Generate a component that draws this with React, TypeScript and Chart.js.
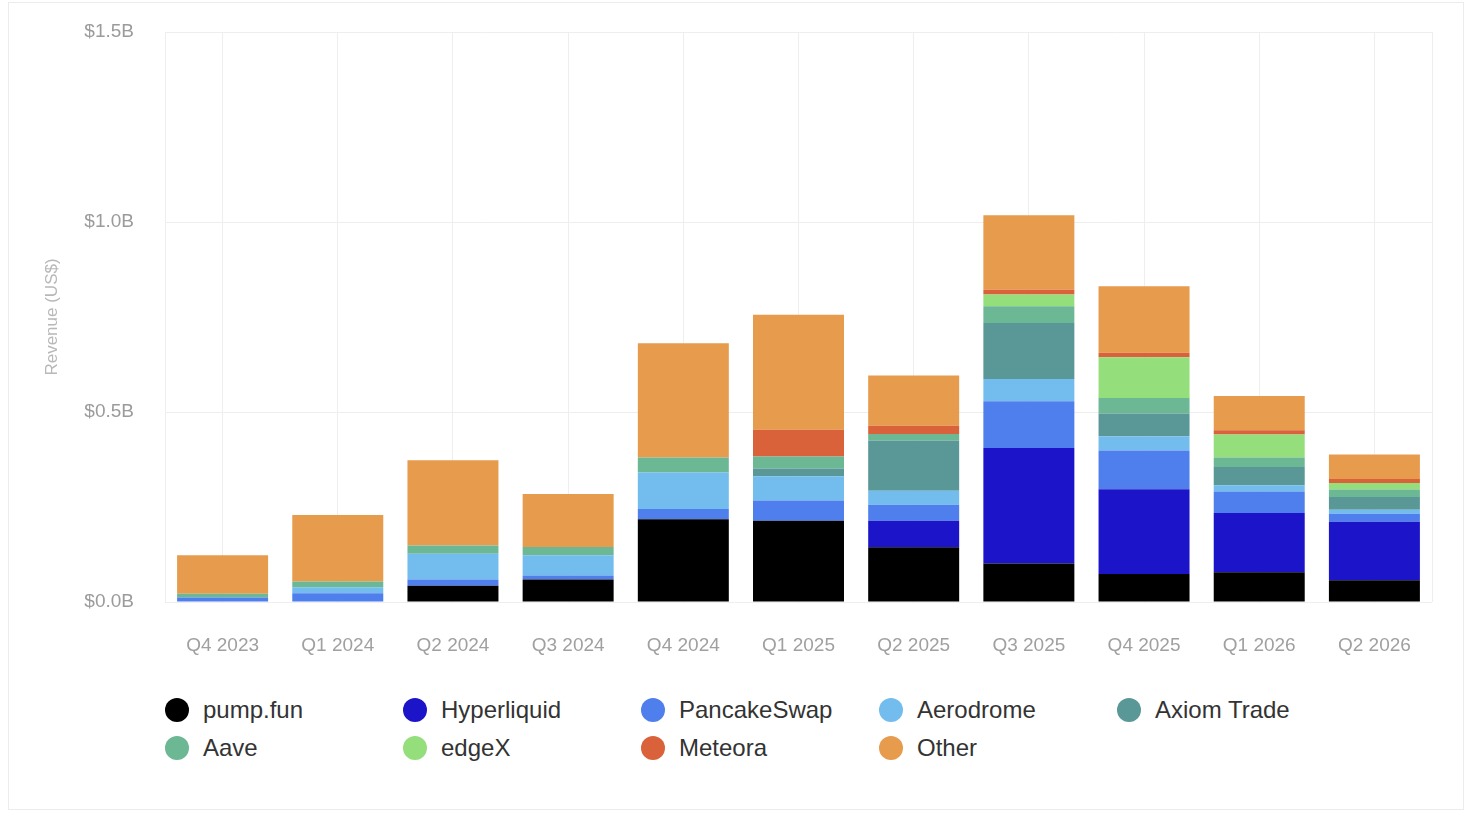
import { useEffect, useRef } from "react";
import { Chart, registerables, type Plugin } from "chart.js";

Chart.register(...registerables);

// ── Data (US$ millions) ──────────────────────────────────────────────────────
const QUARTERS = [
  "Q4 2023", "Q1 2024", "Q2 2024", "Q3 2024", "Q4 2024", "Q1 2025",
  "Q2 2025", "Q3 2025", "Q4 2025", "Q1 2026", "Q2 2026",
];

const PUMP_FUN     = [0, 0, 43, 59, 218, 214, 144, 101, 74, 78, 57];
const HYPERLIQUID  = [0, 0, 0, 0, 0, 0, 70, 304, 223, 156, 154];
const PANCAKESWAP  = [12, 23, 16, 11, 27, 53, 42, 123, 102, 57, 21];
const AERODROME    = [0, 16, 68, 53, 96, 64, 37, 59, 37, 16, 11];
const AXIOM_TRADE  = [0, 0, 0, 0, 0, 20, 132, 147, 60, 48, 33];
const AAVE         = [10, 15, 22, 22, 39, 32, 17, 44, 41, 25, 20];
const EDGEX        = [0, 0, 0, 0, 0, 0, 0, 31, 107, 61, 17];
const METEORA      = [0, 0, 0, 0, 0, 70, 22, 13, 12, 11, 11];
const OTHER        = [101, 175, 224, 139, 301, 303, 132, 196, 175, 90, 64];

const Y_TICKS = [0, 500, 1000, 1500];

// ── Series (bottom of stack first) ───────────────────────────────────────────
const SERIES: Array<{ label: string; color: string; data: number[] }> = [
  { label: "pump.fun",    color: "#000000", data: PUMP_FUN },
  { label: "Hyperliquid", color: "#1c14c8", data: HYPERLIQUID },
  { label: "PancakeSwap", color: "#4e7fec", data: PANCAKESWAP },
  { label: "Aerodrome",   color: "#72bcee", data: AERODROME },
  { label: "Axiom Trade", color: "#5a9797", data: AXIOM_TRADE },
  { label: "Aave",        color: "#6cb794", data: AAVE },
  { label: "edgeX",       color: "#94de7c", data: EDGEX },
  { label: "Meteora",     color: "#d9623a", data: METEORA },
  { label: "Other",       color: "#e79b4d", data: OTHER },
];

// legend reads row by row, five per row
const LEGEND_ORDER = [
  "pump.fun", "Hyperliquid", "PancakeSwap", "Aerodrome", "Axiom Trade",
  "Aave", "edgeX", "Meteora", "Other",
];

const FONT = "'Liberation Sans', Arial, Helvetica, sans-serif";
const GRID = "#eeeeee";

// ── Right edge of the plot frame ─────────────────────────────────────────────
const frameRight: Plugin = {
  id: "frameRight",
  beforeDatasetsDraw(chart) {
    const { ctx, chartArea } = chart;
    ctx.save();
    ctx.strokeStyle = GRID;
    ctx.lineWidth = 1;
    ctx.beginPath();
    ctx.moveTo(chartArea.right + 0.5, chartArea.top);
    ctx.lineTo(chartArea.right + 0.5, chartArea.bottom);
    ctx.stroke();
    ctx.restore();
  },
};

function RevenueChart() {
  const canvasRef = useRef<HTMLCanvasElement>(null);

  useEffect(() => {
    const canvas = canvasRef.current;
    if (!canvas) return;

    const chart = new Chart(canvas, {
      type: "bar",
      plugins: [frameRight],
      data: {
        labels: QUARTERS,
        datasets: SERIES.map((s) => ({
          label: s.label,
          data: s.data,
          backgroundColor: s.color,
          borderWidth: 0,
          stack: "rev",
          barPercentage: 0.79,
          categoryPercentage: 1,
        })),
      },
      options: {
        responsive: false,
        animation: false,
        layout: { padding: { top: 32, right: 36, bottom: 20, left: 0 } },
        plugins: {
          legend: { display: false },
          tooltip: { enabled: false },
        },
        scales: {
          x: {
            stacked: true,
            afterFit(scale: any) { scale.height = 58; },
            grid: { color: GRID, offset: false, drawTicks: false },
            border: { display: false },
            ticks: {
              color: "#a0a0a0",
              padding: 32,
              font: { family: FONT, size: 19 },
              maxRotation: 0,
            },
          },
          y: {
            stacked: true,
            min: 0,
            max: 1500,
            afterFit(scale: any) {
              scale.width = 165;
              scale.paddingTop = 0;
              scale.paddingBottom = 0;
            },
            afterBuildTicks(scale: any) { scale.ticks = Y_TICKS.map((v) => ({ value: v })); },
            grid: { color: GRID, drawTicks: false },
            border: { display: true, color: GRID },
            ticks: {
              color: "#9b9b9b",
              padding: 31,
              font: { family: FONT, size: 19 },
              callback: (v: any) => `$${(Number(v) / 1000).toFixed(1)}B`,
            },
            title: {
              display: true,
              text: "Revenue (US$)",
              color: "#b8b8b8",
              font: { family: FONT, size: 17 },
              padding: { top: 42, bottom: 0 },
            },
          },
        },
      },
    });

    return () => { chart.destroy(); };
  }, []);

  return <canvas ref={canvasRef} width={1468} height={680} style={{ display: "block" }} />;
}

export default function App() {
  return (
    <div style={{ position: "absolute", left: 0, top: 0, width: 1468, height: 816, background: "#fff", overflow: "hidden", fontFamily: FONT }}>
      {/* Card outline */}
      <div style={{ position: "absolute", left: 8, top: 2, width: 1456, height: 808, border: "1px solid #ececec", boxSizing: "border-box" }} />

      <div style={{ position: "absolute", left: 0, top: 0 }}>
        <RevenueChart />
      </div>

      {/* Legend */}
      <div style={{
        position: "absolute", left: 165, top: 691,
        display: "grid", gridTemplateColumns: "repeat(5, 238px)", gridAutoRows: 38,
      }}>
        {LEGEND_ORDER.map((name) => {
          const s = SERIES.find((x) => x.label === name)!;
          return (
            <div key={name} style={{ display: "flex", alignItems: "center", gap: 14 }}>
              <div style={{ width: 24, height: 24, borderRadius: "50%", background: s.color, flex: "none" }} />
              <span style={{ fontSize: 24, color: "#333", lineHeight: "24px" }}>{name}</span>
            </div>
          );
        })}
      </div>
    </div>
  );
}
